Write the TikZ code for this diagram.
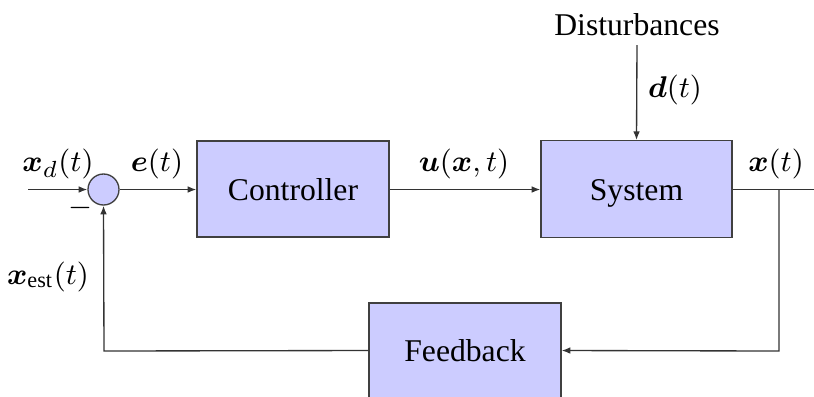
\documentclass[tikz,border=0pt]{standalone}
\usepackage{amsmath}
\usepackage{fontspec}
\setmainfont{Liberation Serif}
\usetikzlibrary{arrows.meta}
\begin{document}
\begin{tikzpicture}[x=0.3pt,y=-0.3pt,
  font=\fontsize{9.5}{11}\selectfont,
  blk/.style={draw=black!75,fill=blue!20,line width=0.4pt,inner sep=0pt,
    text height=6.6pt,text depth=0pt},
  wire/.style={line width=0.4pt,draw=black!80},
  arr/.style={wire,-{Latex[length=2.6pt,width=2pt]}},
  lbl/.style={inner sep=0pt}]
\useasboundingbox (0,0) rectangle (814,396);
\coordinate (in) at (28,189.5);
\node[blk,circle,minimum size=9.3pt,text height=0pt] (sum) at (103.5,189.5) {};
\node[blk,minimum width=57.6pt,minimum height=28.8pt] (ctrl) at (293,189) {Controller};
\node[blk,minimum width=57.3pt,minimum height=29pt] (sys) at (636.5,189) {System};
\node[blk,minimum width=57.6pt,minimum height=28.5pt] (fb) at (465,350.5) {Feedback};
\node[lbl] (dist) at (637,25) {Disturbances};
\coordinate (dtop) at (637,45);
\coordinate (out) at (814,189.5);
\coordinate (br) at (779,189.5);
\coordinate (brd) at (779,351);
\coordinate (fbl) at (104,351);

\draw[arr] (in) -- (sum.west);
\draw[arr] (sum.east) -- (ctrl.west |- sum.east);
\draw[arr] (ctrl.east |- sum.east) -- (sys.west |- sum.east);
\draw[arr] (dtop) -- (sys.north);
\draw[wire] (sys.east |- out) -- (out);
\draw[arr] (br) -- (brd) -- (fb.east);
\draw[arr] (fb.west) -- (fbl) -- (sum.south);

\node[lbl] (lxd) at (58,164) {$\boldsymbol{x}_d(t)$};
\node[lbl] (le) at (157,164) {$\boldsymbol{e}(t)$};
\node[lbl] (lu) at (464,164) {$\boldsymbol{u}(\boldsymbol{x},t)$};
\node[lbl] (lx) at (776,164) {$\boldsymbol{x}(t)$};
\node[lbl] (ld) at (675,90) {$\boldsymbol{d}(t)$};
\node[lbl] (lest) at (48,277) {$\boldsymbol{x}_{\mathrm{est}}(t)$};
\node[lbl] (minus) at (80,208) {$-$};
\end{tikzpicture}
\end{document}
